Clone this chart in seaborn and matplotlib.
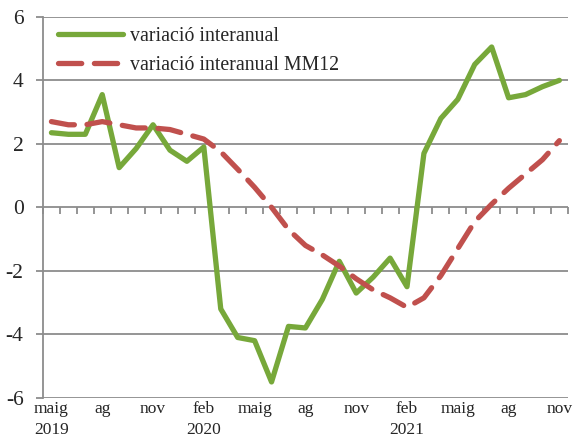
import matplotlib
matplotlib.use('Agg')
import matplotlib.pyplot as plt
import seaborn as sns
import pandas as pd
import numpy as np

# Dades mensuals, maig 2019 - nov 2021
mesos = ['maig 2019', 'jun', 'jul', 'ag', 'set', 'oct', 'nov', 'des',
         'gen 2020', 'feb', 'mar', 'abr', 'maig', 'jun', 'jul', 'ag', 'set',
         'oct', 'nov', 'des', 'gen 2021', 'feb', 'mar', 'abr', 'maig', 'jun',
         'jul', 'ag', 'set', 'oct', 'nov']
variacio = [2.35, 2.3, 2.3, 3.55, 1.25, 1.85, 2.6, 1.8, 1.45, 1.9,
            -3.2, -4.1, -4.2, -5.5, -3.75, -3.8, -2.9, -1.7, -2.7, -2.2,
            -1.6, -2.5, 1.7, 2.8, 3.4, 4.5, 5.05, 3.45, 3.55, 3.8, 4.0]
variacio_mm12 = [2.7, 2.6, 2.6, 2.7, 2.6, 2.5, 2.5, 2.45, 2.3, 2.15,
                 1.75, 1.2, 0.63, 0.0, -0.7, -1.2, -1.5, -1.85, -2.25, -2.6,
                 -2.85, -3.15, -2.85, -2.15, -1.3, -0.45, 0.1, 0.6, 1.05, 1.5, 2.1]
tick_pos = [0, 3, 6, 9, 12, 15, 18, 21, 24, 27, 30]
tick_labels = ['maig\n2019', 'ag', 'nov', 'feb\n2020', 'maig', 'ag', 'nov',
               'feb\n2021', 'maig', 'ag', 'nov']

df = pd.DataFrame({'idx': range(len(mesos)), 'mes': mesos,
                   'var': variacio, 'mm12': variacio_mm12})

sns.set_style('white')
plt.rcParams['font.family'] = ['Liberation Serif', 'DejaVu Serif']
plt.rcParams['axes.unicode_minus'] = False

gris = '#8c8c8c'
verd = '#77a83a'
vermell = '#c0504d'

fig = plt.figure(figsize=(5.73, 4.43), dpi=100)
ax = fig.add_axes([0.075, 0.102, 0.916, 0.86])

sns.lineplot(data=df, x='idx', y='var', ax=ax, color=verd, linewidth=3.8,
             label='variació interanual', solid_capstyle='round',
             solid_joinstyle='round')
sns.lineplot(data=df, x='idx', y='mm12', ax=ax, color=vermell, linewidth=3.8,
             label='variació interanual MM12', dashes=(4.4, 2.4),
             dash_capstyle='round', dash_joinstyle='round')

ax.set_xlim(-0.5, len(mesos) - 0.5)
ax.set_ylim(-6, 6)
ax.set_yticks(np.arange(-6, 7, 2))
ax.yaxis.grid(True, color=gris, linewidth=1.3)
ax.set_axisbelow(True)
for s in ['top', 'right', 'bottom']:
    ax.spines[s].set_visible(False)
ax.spines['left'].set_color(gris)
ax.spines['left'].set_linewidth(1.3)
ax.tick_params(axis='y', direction='out', length=5, color=gris, width=1.3,
               labelsize=15.5, pad=9, left=True)

ax.set_xticks(tick_pos)
ax.set_xticklabels(tick_labels, fontsize=12.5, linespacing=1.45)
ax.tick_params(axis='x', length=0, pad=2)
ax.set_xlabel('')
ax.set_ylabel('')

# eix de categories a y = 0 amb marques entre mesos
sec = ax.secondary_xaxis(0.5)
sec.xaxis.set_ticks_position('bottom')
sec.set_xticks(np.arange(-0.5, len(mesos), 1.0))
sec.set_xticklabels([])
sec.tick_params(axis='x', direction='out', length=5, color=gris, width=1.3,
                bottom=True, top=False)
for s in sec.spines.values():
    s.set_visible(False)

leg = ax.legend(loc='upper left', frameon=False, fontsize=14.3,
                handlelength=3.3, handletextpad=0.35, labelspacing=0.5,
                borderaxespad=0.0, bbox_to_anchor=(0.013, 0.995))

fig.savefig('out.png', dpi=100)
